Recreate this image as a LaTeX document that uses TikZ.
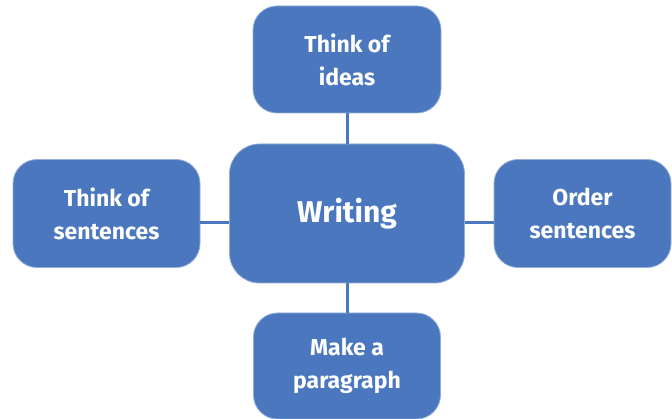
\documentclass[tikz,border=0pt]{standalone}
\usepackage{fontspec}
\setsansfont{Fira Sans}
\definecolor{boxblue}{HTML}{4A77BD}
\tikzset{
  topic/.style={rounded corners=24pt, fill=boxblue, draw=boxblue!60!white, line width=0.8pt,
    text=white, font=\sffamily\bfseries\fontsize{23}{33}\selectfont, align=center, inner sep=0pt},
  link/.style={draw=boxblue, line width=3pt}
}
\begin{document}
\begin{tikzpicture}[x=1pt,y=-1pt]
	\useasboundingbox (0,0) rectangle (672,419);

	\node[topic, minimum width=235pt, minimum height=139pt, rounded corners=30pt,
	  font=\sffamily\bfseries\fontsize{30}{36}\selectfont] (writing) at (347,213.5) {Writing};

	\node[topic, minimum width=188pt, minimum height=107pt] (ideas) at (347,59.5) {Think of\\ideas};
	\node[topic, minimum width=187pt, minimum height=108pt] (sentences) at (106.5,213.5) {Think of\\sentences};
	\node[topic, minimum width=177pt, minimum height=108pt] (order) at (582.5,213.5) {Order\\sentences};
	\node[topic, minimum width=187pt, minimum height=106pt] (paragraph) at (347,366) {Make a\\paragraph};

	% connectors
	\draw[link] (ideas) -- (writing);
	\draw[link] (writing) -- (paragraph);
	\draw[link] ([yshift=-9pt]sentences.east) -- ([yshift=-9pt]writing.west);
	\draw[link] ([yshift=-9pt]writing.east) -- ([yshift=-9pt]order.west);
\end{tikzpicture}
\end{document}
